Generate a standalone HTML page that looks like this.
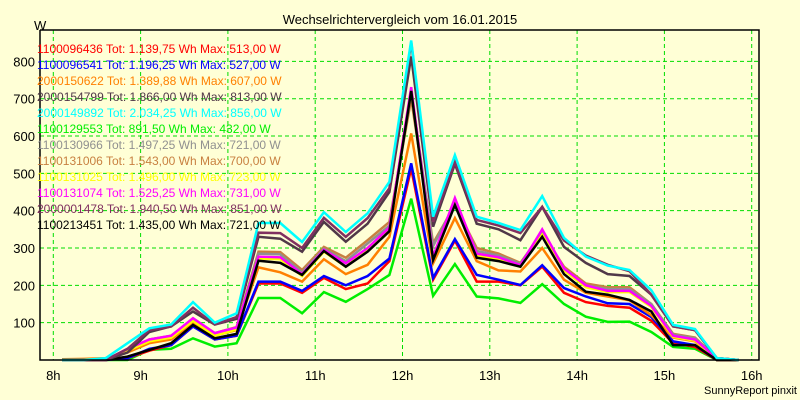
<!DOCTYPE html>
<html><head><meta charset="utf-8"><style>
html,body{margin:0;padding:0;background:#ffffd6;}
svg{display:block;font-family:"Liberation Sans",Arial,sans-serif;}
</style></head><body>
<svg id="chart" width="800" height="400" viewBox="0 0 800 400">
<rect x="0" y="0" width="800" height="400" fill="#ffffd6"/>
<text x="400" y="24" text-anchor="middle" font-size="13" fill="#000">Wechselrichtervergleich vom 16.01.2015</text>
<text x="34" y="30" font-size="13" fill="#000">W</text>
<g id="grid"></g>
<g id="series"></g>
<g id="axes"></g>
<g id="legend"></g>
<text x="797" y="394" text-anchor="end" font-size="11" fill="#000">SunnyReport pinxit</text>
</svg>
<script>
const yTicks=[100,200,300,400,500,600,700,800];
const xTickLabels=["8h","9h","10h","11h","12h","13h","14h","15h","16h"];
const seriesNames=["1100096436 Tot: 1.139,75 Wh Max: 513,00 W","1100096541 Tot: 1.196,25 Wh Max: 527,00 W","2000150622 Tot: 1.389,88 Wh Max: 607,00 W","2000154799 Tot: 1.866,00 Wh Max: 813,00 W","2000149892 Tot: 2.034,25 Wh Max: 856,00 W","1100129553 Tot: 891,50 Wh Max: 432,00 W","1100130966 Tot: 1.497,25 Wh Max: 721,00 W","1100131006 Tot: 1.543,00 Wh Max: 700,00 W","1100131025 Tot: 1.496,00 Wh Max: 723,00 W","1100131074 Tot: 1.525,25 Wh Max: 731,00 W","2000001478 Tot: 1.940,50 Wh Max: 851,00 W","1100213451 Tot: 1.435,00 Wh Max: 721,00 W"];
const seriesColors=["#ff0000","#0000ff","#ff8000","#503848","#00ffff","#00ee00","#909090","#c88040","#ffff00","#ff00ff","#803060","#000000"];
// sample times in hours (15-min samples)
const times=[8.1,8.35,8.6,8.85,9.1,9.35,9.6,9.85,10.1,10.35,10.6,10.85,11.1,11.35,11.6,11.85,12.1,12.35,12.6,12.85,13.1,13.35,13.6,13.85,14.1,14.35,14.6,14.85,15.1,15.35,15.6,15.85];
const sRed=[0,0,0,5,25,40,90,55,65,205,205,180,220,190,205,265,513,215,320,210,210,200,250,180,155,145,140,105,45,35,0,0];
const sBlue=[0,0,0,5,30,40,90,55,65,210,210,185,225,200,225,272,527,220,324,228,215,201,254,193,170,152,150,115,50,40,0,0];
const sOrange=[2,3,5,20,45,55,100,65,80,248,235,210,270,230,255,330,607,259,380,265,240,237,300,215,180,170,160,120,60,50,0,0];
const sDark=[0,0,0,20,75,90,130,95,110,330,325,290,370,317,365,450,813,357,525,365,350,321,410,303,260,230,225,175,90,80,5,0];
const sCyan=[0,0,5,45,85,95,155,100,125,367,367,316,396,343,393,477,856,384,549,384,367,348,439,327,277,253,241,187,94,83,5,0];
const sGreen=[0,0,0,0,27,30,58,36,45,166,166,125,182,156,190,228,432,172,257,170,165,153,203,150,116,102,103,75,35,30,0,0];
const sGray=[0,0,0,25,55,62,108,70,85,285,283,235,298,265,312,360,721,305,420,292,280,258,345,245,200,190,190,150,68,58,5,0];
const sBrown=[0,0,2,25,55,65,110,72,88,290,289,241,303,274,321,370,700,313,415,300,285,260,340,250,205,195,195,150,70,60,5,0];
const sYellow=[0,0,0,25,50,60,105,65,82,272,270,225,290,250,295,350,723,275,425,280,270,250,335,240,195,182,182,142,62,52,3,0];
const sMagenta=[0,0,0,30,55,65,112,72,87,277,275,230,295,259,300,355,731,277,434,285,275,254,350,245,200,185,185,145,65,55,5,0];
const sPurple=[0,0,0,30,80,90,140,95,115,341,340,300,381,330,380,460,851,370,530,375,360,340,410,320,280,255,238,175,90,80,5,0];
const sBlack=[0,0,0,9,27,45,94,58,70,266,260,228,292,250,290,345,721,268,415,274,265,250,330,230,183,175,161,130,40,40,0,0];
const allSeries=[sRed,sBlue,sOrange,sDark,sCyan,sGreen,sGray,sBrown,sYellow,sMagenta,sPurple,sBlack];
const drawOrder=[5,0,1,2,7,6,8,9,11,3,10,4];

const L=40,R=759,T=30,B=360;
const yScale=v=>B-v*0.3733;
const xScale=h=>53.3+(h-8)*87.3;
const NS="http://www.w3.org/2000/svg";
function mk(tag,attrs,parent){const e=document.createElementNS(NS,tag);for(const k in attrs)e.setAttribute(k,attrs[k]);parent.appendChild(e);return e;}
const grid=document.getElementById('grid'),axes=document.getElementById('axes'),ser=document.getElementById('series'),leg=document.getElementById('legend');
yTicks.forEach(v=>{
  const y=yScale(v);
  const g=mk('line',{x1:L,x2:R,y1:y,y2:y,stroke:'#00dd00','stroke-dasharray':'4,3','stroke-width':1},grid);
  
  
  const t=mk('text',{x:35,y:y+5,'text-anchor':'end','font-size':13,fill:'#000'},axes);
  t.textContent=v;
  
  
});
xTickLabels.forEach((lab,i)=>{
  const x=xScale(8+i);
  const g=mk('line',{x1:x,x2:x,y1:T,y2:B,stroke:'#00dd00','stroke-dasharray':'4,3','stroke-width':1},grid);
  
  
  const t=mk('text',{x:x,y:380,'text-anchor':'middle','font-size':13,fill:'#000'},axes);
  t.textContent=lab;
  
  
});
drawOrder.forEach(i=>{
  const d=allSeries[i];
  const pts=d.map((v,k)=>xScale(times[k]).toFixed(1)+','+yScale(v).toFixed(1)).join(' ');
  const p=mk('polyline',{points:pts,fill:'none',stroke:seriesColors[i],'stroke-width':2.5,'stroke-linejoin':'miter'},ser);
  
  
});
const fr=mk('polyline',{points:`${L},${T} ${R},${T} ${R},${B} ${L},${B} ${L},${T}`,fill:'none',stroke:'#000','stroke-width':1.5},axes);


seriesNames.forEach((n,i)=>{
  const t=mk('text',{x:37,y:53+i*16,'font-size':12,fill:seriesColors[i]},leg);
  t.textContent=n;
  
  
});
</script>
</body></html>
